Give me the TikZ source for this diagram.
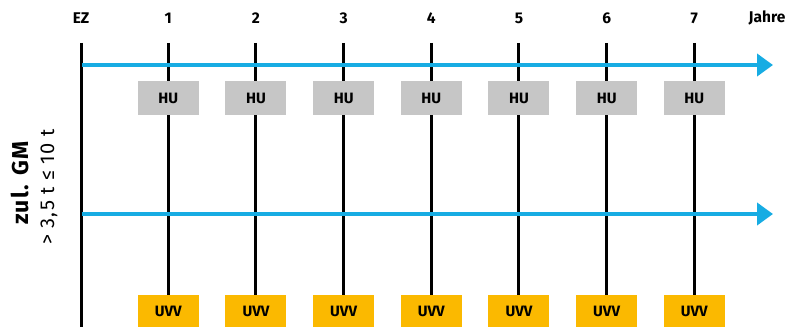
\documentclass[tikz,border=0pt]{standalone}
\usepackage{fontspec}
\setmainfont{Fira Sans}
\newfontfamily\widefont{Fira Sans}[LetterSpace=6]
\usetikzlibrary{arrows.meta}

\definecolor{hugray}{HTML}{C6C6C6}
\definecolor{uvvorange}{HTML}{FBB900}
\definecolor{timeblue}{HTML}{17ACE3}

\begin{document}
\begin{tikzpicture}[
    x=1pt, y=1pt,
    yline/.style = {line width=3pt, black},
    tline/.style = {line width=4pt, timeblue, -{Triangle[length=16pt, width=22pt]}},
    hubox/.style = {fill=hugray, minimum width=61pt, minimum height=34pt, inner sep=0pt,
                    font=\fontsize{15}{17}\selectfont\bfseries},
    uvvbox/.style = {fill=uvvorange, minimum width=61pt, minimum height=32pt, inner sep=0pt,
                     font=\fontsize{15}{17}\selectfont\bfseries},
    lbl/.style = {font=\fontsize{15.5}{17}\selectfont\bfseries},
  ]
  \useasboundingbox (0,0) rectangle (787,327);

  % ---------- Parameter ----------
  \def\dx{87.67}               % Abstand zwischen zwei Jahren
  \def\xa{168.3}               % Jahr 1
  \def\top{284}                % obere Enden der Jahreslinien
  \def\ya{262}                 % obere Zeitachse
  \def\yb{113}                 % untere Zeitachse

  % ---------- Erstzulassung (EZ) ----------
  \coordinate (t0) at (81,\top);
  \coordinate (b0) at (81,0);
  \draw[yline] (t0) -- (b0);
  \node[lbl] (lEZ) at (81,309) {EZ};

  % ---------- Jahreslinien bis zu den UVV-Kästen ----------
  \node[uvvbox] (u1) at (\xa+0*\dx,16) {UVV}; \coordinate (t1) at (\xa+0*\dx,\top);
  \node[uvvbox] (u2) at (\xa+1*\dx,16) {UVV}; \coordinate (t2) at (\xa+1*\dx,\top);
  \node[uvvbox] (u3) at (\xa+2*\dx,16) {UVV}; \coordinate (t3) at (\xa+2*\dx,\top);
  \node[uvvbox] (u4) at (\xa+3*\dx,16) {UVV}; \coordinate (t4) at (\xa+3*\dx,\top);
  \node[uvvbox] (u5) at (\xa+4*\dx,16) {UVV}; \coordinate (t5) at (\xa+4*\dx,\top);
  \node[uvvbox] (u6) at (\xa+5*\dx,16) {UVV}; \coordinate (t6) at (\xa+5*\dx,\top);
  \node[uvvbox] (u7) at (\xa+6*\dx,16) {UVV}; \coordinate (t7) at (\xa+6*\dx,\top);

  \draw[yline] (t1) -- (u1.north);
  \draw[yline] (t2) -- (u2.north);
  \draw[yline] (t3) -- (u3.north);
  \draw[yline] (t4) -- (u4.north);
  \draw[yline] (t5) -- (u5.north);
  \draw[yline] (t6) -- (u6.north);
  \draw[yline] (t7) -- (u7.north);

  % ---------- Zeitachsen ----------
  \coordinate (a1s) at (82,\ya); \coordinate (a1e) at (773,\ya);
  \coordinate (a2s) at (82,\yb); \coordinate (a2e) at (773,\yb);
  \draw[tline] (a1s) -- (a1e);
  \draw[tline] (a2s) -- (a2e);

  % ---------- HU-Kästen ----------
  \node[hubox] (h1) at (\xa+0*\dx,229) {HU};
  \node[hubox] (h2) at (\xa+1*\dx,229) {HU};
  \node[hubox] (h3) at (\xa+2*\dx,229) {HU};
  \node[hubox] (h4) at (\xa+3*\dx,229) {HU};
  \node[hubox] (h5) at (\xa+4*\dx,229) {HU};
  \node[hubox] (h6) at (\xa+5*\dx,229) {HU};
  \node[hubox] (h7) at (\xa+6*\dx,229) {HU};

  % ---------- Jahreszahlen ----------
  \node[lbl] (l1) at (\xa+0*\dx,309) {1};
  \node[lbl] (l2) at (\xa+1*\dx,309) {2};
  \node[lbl] (l3) at (\xa+2*\dx,309) {3};
  \node[lbl] (l4) at (\xa+3*\dx,309) {4};
  \node[lbl] (l5) at (\xa+4*\dx,309) {5};
  \node[lbl] (l6) at (\xa+5*\dx,309) {6};
  \node[lbl] (l7) at (\xa+6*\dx,309) {7};
  \node[lbl] (lJ) at (767,309) {Jahre};

  % ---------- Gewichtsklasse ----------
  \node[rotate=90, font=\fontsize{23}{25}\selectfont\widefont\bfseries] (gm) at (20,144) {zul. GM};
  \node[rotate=90, font=\fontsize{20}{22}\selectfont\widefont] (gw) at (49,140) {> 3,5 t ≤ 10 t};

\end{tikzpicture}
\end{document}
